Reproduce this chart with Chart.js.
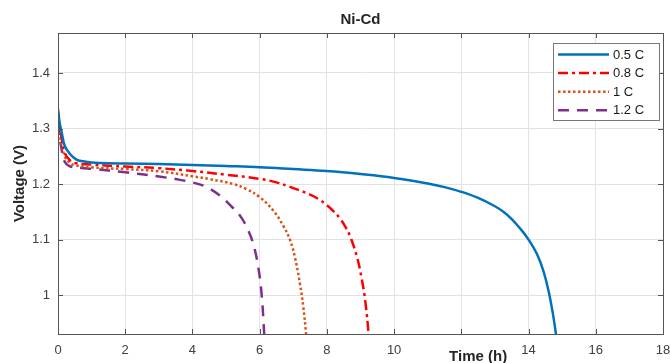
<!DOCTYPE html>
<html>
<head>
<meta charset="utf-8">
<title>Ni-Cd</title>
<script src="https://cdn.jsdelivr.net/npm/chart.js@4.4.1/dist/chart.umd.min.js"></script>
<style>
  html, body { margin: 0; padding: 0; background: #fff; }
  canvas { display: block; }
</style>
</head>
<body>
<canvas id="chart" width="670" height="363"></canvas>
<script>
// discharge curves (time in h, voltage in V)
const seriesLabels = ['0.5 C', '0.8 C', '1 C', '1.2 C'];

const timeHalf = [0, 0.05, 0.11, 0.2, 0.35, 0.55, 0.75, 1, 1.5, 2, 3, 4, 5, 6, 7, 8, 9, 10, 11, 11.5, 12, 12.5, 13, 13.25, 13.5, 13.75, 14, 14.25, 14.45, 14.6, 14.72, 14.81, 14.9];
const voltHalf = [1.336, 1.31, 1.293, 1.269, 1.2545, 1.244, 1.241, 1.239, 1.2375, 1.237, 1.236, 1.2345, 1.2325, 1.2303, 1.227, 1.2235, 1.218, 1.211, 1.201, 1.1945, 1.186, 1.175, 1.16, 1.15, 1.137, 1.12, 1.1, 1.074, 1.042, 1.006, 0.968, 0.932, 0.89];

const time08 = [0, 0.05, 0.1, 0.2, 0.35, 0.5, 1, 2, 3, 4, 5, 6, 6.5, 6.9, 7.5, 7.75, 8, 8.2, 8.39, 8.56, 8.69, 8.89, 9.04, 9.14, 9.24, 9.32];
const volt08 = [1.33, 1.30, 1.285, 1.256, 1.243, 1.238, 1.235, 1.2316, 1.2286, 1.2235, 1.2168, 1.2094, 1.203, 1.195, 1.181, 1.173, 1.162, 1.151, 1.138, 1.122, 1.106, 1.07, 1.028, 0.99, 0.931, 0.87];

const time1 = [0, 0.05, 0.1, 0.2, 0.35, 0.5, 1, 2, 3, 4, 4.5, 5.22, 5.6, 6.01, 6.41, 6.7, 6.9, 7.05, 7.2, 7.3, 7.38, 7.45];
const volt1 = [1.32, 1.29, 1.275, 1.25, 1.238, 1.234, 1.230, 1.227, 1.223, 1.214, 1.209, 1.2, 1.191, 1.176, 1.152, 1.125, 1.1, 1.068, 1.02, 0.978, 0.931, 0.88];

const time12 = [0, 0.05, 0.1, 0.2, 0.35, 0.7, 1, 2, 3, 3.5, 4, 4.4, 4.82, 5.22, 5.45, 5.65, 5.81, 5.96, 6.06, 6.13, 6.2];
const volt12 = [1.31, 1.285, 1.265, 1.24, 1.232, 1.229, 1.2274, 1.2213, 1.2135, 1.209, 1.203, 1.195, 1.179, 1.156, 1.14, 1.118, 1.092, 1.05, 1.0, 0.935, 0.86];

const xTicks = [0, 2, 4, 6, 8, 10, 12, 14, 16, 18];
const yTicks = [1, 1.1, 1.2, 1.3, 1.4];
const hiddenXLabels = [12]; // covered by the axis title in the original

const colors = ['#0072BD', '#FF0000', '#D95319', '#7E2F8E'];
const dashes = [[], [10, 4, 3, 4], [2.5, 2.5], [11, 8]];

const FONT = '"Liberation Sans", Arial, Helvetica, sans-serif';

const toPoints = (ts, vs) => ts.map((t, i) => ({ x: t, y: vs[i] }));
const allSeries = [
  toPoints(timeHalf, voltHalf),
  toPoints(time08, volt08),
  toPoints(time1, volt1),
  toPoints(time12, volt12)
];

// frame, inward ticks, titles and legend box
const overlay = {
  id: 'overlay',
  afterDraw(chart) {
    const { ctx, chartArea: a, scales: { x, y } } = chart;
    ctx.save();

    ctx.strokeStyle = '#555';
    ctx.lineWidth = 1;
    ctx.strokeRect(Math.round(a.left) + 0.5, Math.round(a.top) + 0.5, Math.round(a.width), Math.round(a.height));
    ctx.beginPath();
    x.ticks.forEach(t => {
      const px = Math.round(x.getPixelForValue(t.value)) + 0.5;
      ctx.moveTo(px, a.bottom); ctx.lineTo(px, a.bottom - 5);
      ctx.moveTo(px, a.top); ctx.lineTo(px, a.top + 5);
    });
    y.ticks.forEach(t => {
      const py = Math.round(y.getPixelForValue(t.value)) + 0.5;
      ctx.moveTo(a.left, py); ctx.lineTo(a.left + 5, py);
      ctx.moveTo(a.right, py); ctx.lineTo(a.right - 5, py);
    });
    ctx.stroke();

    // titles
    ctx.fillStyle = '#262626';
    ctx.textAlign = 'center';
    ctx.textBaseline = 'middle';
    ctx.font = 'bold 15px ' + FONT;
    ctx.fillText('Ni-Cd', (a.left + a.right) / 2, 20);
    ctx.fillText('Time (h)', x.getPixelForValue(12.5), 357);
    ctx.save();
    ctx.translate(20, (a.top + a.bottom) / 2);
    ctx.rotate(-Math.PI / 2);
    ctx.fillText('Voltage (V)', 0, 0);
    ctx.restore();

    // legend
    const bx = 553.5, by = 43.5, bw = 106, bh = 77;
    ctx.fillStyle = '#fff';
    ctx.fillRect(bx, by, bw, bh);
    ctx.strokeStyle = '#777';
    ctx.strokeRect(bx, by, bw, bh);
    ctx.font = '13px ' + FONT;
    ctx.textAlign = 'left';
    seriesLabels.forEach((label, i) => {
      const ly = 54.5 + i * 18.6;
      ctx.save();
      ctx.strokeStyle = colors[i];
      ctx.lineWidth = 2.5;
      ctx.setLineDash(dashes[i]);
      ctx.beginPath();
      ctx.moveTo(558, ly);
      ctx.lineTo(609, ly);
      ctx.stroke();
      ctx.restore();
      ctx.fillStyle = '#1a1a1a';
      ctx.fillText(label, 613, ly + 0.5);
    });

    ctx.restore();
  }
};

new Chart(document.getElementById('chart'), {
  type: 'line',
  data: {
    datasets: allSeries.map((pts, i) => ({
      label: seriesLabels[i],
      data: pts,
      borderColor: colors[i],
      borderWidth: 2.5,
      borderDash: dashes[i],
      pointRadius: 0,
      fill: false,
      tension: 0.4,
      clip: 0
    }))
  },
  options: {
    responsive: false,
    animation: false,
    layout: { padding: { top: 33, right: 7, bottom: 0, left: 0 } },
    plugins: {
      legend: { display: false },
      title: { display: false },
      tooltip: { enabled: false }
    },
    scales: {
      x: {
        type: 'linear',
        min: 0,
        max: 18,
        afterBuildTicks: s => { s.ticks = xTicks.map(v => ({ value: v })); },
        afterFit: s => { s.height = 29; s.paddingLeft = 0; s.paddingRight = 0; },
        grid: { color: '#e3e3e3', drawTicks: false },
        border: { display: false },
        ticks: {
          padding: 9,
          maxRotation: 0,
          color: '#404040',
          font: { family: FONT, size: 13 },
          callback: v => hiddenXLabels.includes(v) ? '' : String(v)
        }
      },
      y: {
        type: 'linear',
        min: 0.93,
        max: 1.472,
        afterBuildTicks: s => { s.ticks = yTicks.map(v => ({ value: v })); },
        afterFit: s => { s.width = 58; s.paddingTop = 0; s.paddingBottom = 0; },
        grid: { color: '#e3e3e3', drawTicks: false },
        border: { display: false },
        ticks: {
          padding: 8,
          color: '#404040',
          font: { family: FONT, size: 13 },
          callback: v => String(+v.toFixed(2))
        }
      }
    }
  },
  plugins: [overlay]
});
</script>
</body>
</html>
